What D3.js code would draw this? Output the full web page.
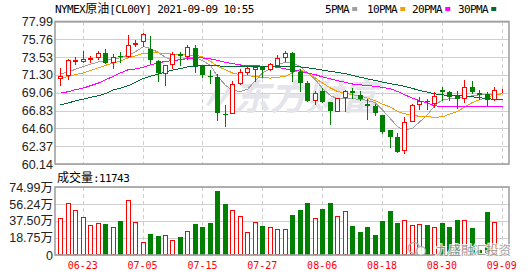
<!DOCTYPE html>
<html>
<head>
<meta charset="utf-8">
<script src="https://cdn.jsdelivr.net/npm/d3@7"></script>
<style>
body { margin: 0; background: #fff; }
svg { display: block; }
</style>
</head>
<body>
<script>
// ---- data ----
const dates = ['06-18','06-21','06-22','06-23','06-24','06-25','06-28','06-29','06-30','07-01',
               '07-02','07-05','07-06','07-07','07-08','07-09','07-12','07-13','07-14','07-15',
               '07-16','07-19','07-20','07-21','07-22','07-23','07-26','07-27','07-28','07-29',
               '07-30','08-02','08-03','08-04','08-05','08-06','08-09','08-10','08-11','08-12',
               '08-13','08-16','08-17','08-18','08-19','08-20','08-23','08-24','08-25','08-26',
               '08-27','08-30','08-31','09-01','09-02','09-03','09-06','09-07','09-08','09-09'];

const openP  = [70.86,71.33,73.10,73.00,73.35,73.55,74.05,72.87,73.62,73.63,
                75.20,75.56,74.60,73.09,71.54,72.67,73.88,73.72,74.68,72.46,
                71.15,71.04,66.45,66.51,70.28,71.70,72.08,72.25,72.08,72.58,
                73.50,74.01,71.66,70.28,68.10,69.23,67.85,66.84,68.47,69.32,
                68.81,67.64,67.43,66.30,64.41,63.57,61.90,65.54,67.64,68.00,
                67.77,69.36,69.19,68.60,68.44,69.78,69.03,68.94,68.31,69.38];
const highP  = [72.17,73.30,73.55,74.30,73.72,74.34,74.60,73.97,74.18,76.36,
                75.69,76.57,76.23,73.20,72.55,74.18,74.18,75.01,75.01,72.50,
                71.96,71.45,67.56,70.57,72.08,72.37,72.30,72.30,72.84,73.84,
                74.26,74.13,72.08,70.57,69.32,69.66,67.90,68.45,69.35,69.66,
                69.23,68.31,67.68,66.30,64.41,63.99,66.00,67.64,68.52,68.31,
                69.10,69.73,69.32,69.23,70.66,70.57,69.36,69.15,69.78,69.57];
const lowP   = [69.98,70.82,72.67,72.90,72.92,73.34,72.80,72.12,72.92,73.50,
                74.88,74.88,72.80,70.49,70.07,72.12,72.50,73.34,71.66,71.04,
                70.28,65.60,64.95,66.50,70.16,71.45,70.57,70.99,71.96,72.46,
                73.00,70.57,69.23,68.06,67.64,67.90,65.10,66.80,66.72,68.40,
                68.18,65.76,66.30,64.07,62.31,61.69,61.56,65.54,67.01,67.00,
                67.34,68.18,68.18,67.14,67.90,69.03,68.31,67.56,68.18,69.10];
const closeP = [71.20,73.21,73.17,73.30,73.40,74.05,72.80,73.50,73.55,75.06,
                75.30,76.44,73.21,71.54,72.50,73.88,73.63,74.80,72.46,71.33,
                71.10,66.51,66.40,70.16,71.66,72.17,72.25,71.96,72.67,73.46,
                74.01,71.66,70.28,68.06,69.03,67.90,66.84,68.40,69.32,69.03,
                68.31,67.43,66.59,64.20,63.57,61.69,65.38,67.47,67.97,67.95,
                68.60,69.10,68.47,68.27,69.78,69.15,68.78,68.18,69.40,69.42];

// 成交量, 万
const volume = [40.5,57.0,49.3,41.6,32.7,35.0,34.2,30.5,37.2,60.3,
                36.0,14.3,22.8,21.0,21.7,16.5,19.8,26.1,34.2,30.9,
                35.3,70.6,56.2,49.3,42.7,25.0,36.0,32.0,30.5,28.7,
                28.7,44.1,49.6,57.3,40.4,50.7,57.3,42.6,48.2,32.0,
                25.4,30.9,22.1,37.5,48.5,35.3,38.2,32.7,33.8,33.1,
                30.5,35.0,30.9,38.6,38.2,29.8,6.0,47.4,36.4,1.1743];
const lastVolume = 11743;

const ma5  = [71.41,71.70,72.00,72.37,72.65,72.92,73.10,73.30,73.45,73.80,
              74.20,74.85,74.60,74.10,73.50,73.13,73.20,73.45,73.50,73.10,
              72.50,71.12,70.00,69.36,69.23,69.50,70.60,71.54,72.10,72.58,
              72.88,72.80,72.30,71.54,70.70,69.60,68.70,68.31,68.31,68.31,
              68.25,68.10,67.80,66.90,65.80,64.80,64.41,64.60,65.40,66.30,
              67.43,68.18,68.31,68.40,68.55,68.69,68.81,68.81,68.85,68.94];
const ma10 = [70.91,71.10,71.35,71.54,71.85,72.17,72.50,72.80,73.05,73.45,
              73.70,74.00,74.05,74.05,74.00,73.90,73.84,73.78,73.72,73.60,
              73.00,72.37,71.96,71.54,71.33,71.20,71.12,70.95,70.90,71.00,
              71.12,71.60,71.96,71.54,70.91,70.28,69.66,69.23,69.03,68.81,
              68.65,68.40,68.06,67.64,67.26,66.72,66.43,66.30,66.09,66.05,
              66.00,66.05,66.38,66.72,67.26,67.85,68.18,68.52,68.81,68.94];
const ma20 = [69.03,69.20,69.45,69.66,69.95,70.28,70.70,71.12,71.55,71.96,
              72.04,72.25,72.58,72.80,73.00,73.09,73.21,73.34,73.42,73.42,
              73.30,73.13,72.88,72.71,72.54,72.50,72.45,72.40,72.37,72.25,
              72.04,71.96,71.75,71.54,71.33,71.04,70.79,70.57,70.36,70.16,
              70.05,69.95,69.87,69.74,69.57,69.23,68.81,68.40,68.06,67.77,
              67.43,67.34,67.34,67.34,67.34,67.34,67.34,67.34,67.34,67.34];
const ma30 = [67.56,67.80,68.05,68.27,68.50,68.69,68.95,69.44,69.65,69.95,
              70.40,70.85,71.15,71.40,71.65,71.90,72.10,72.30,72.40,72.45,
              72.45,72.42,72.40,72.37,72.37,72.37,72.37,72.37,72.37,72.37,
              72.37,72.37,72.30,72.20,72.04,71.90,71.75,71.62,71.45,71.25,
              71.00,70.80,70.60,70.40,70.20,70.05,69.87,69.60,69.36,69.15,
              68.94,68.80,68.70,68.69,68.65,68.56,68.45,68.31,68.25,68.18];

const priceTicks  = [77.99,75.76,73.53,71.30,69.06,66.83,64.60,62.37,60.14];
const priceLabels = ['77.99','75.76','73.53','71.30','69.06','66.83','64.60','62.37','60.14'];
const volTicks  = [74.99,56.24,37.50,18.75,0];
const volLabels = ['74.99万','56.24万','37.50万','18.75万','0'];
const xLabels = ['06-23','07-05','07-15','07-27','08-06','08-18','08-30','09-09'];

const maNames  = ['5PMA','10PMA','20PMA','30PMA'];
const maSeries = [ma5, ma10, ma20, ma30];

function renderChart() {
    // ==== layout ====
    const width = 530, height = 276;
    const plotL = 55, plotR = 509;
    const pTop = 21.5, pBot = 164;
    const vTop = 187, vBot = 255;

    const colors = { up: '#ff0000', down: '#008000', grid: '#cfcfcf', frame: '#a0a0a0' };
    const maColors = ['#a0a0a0', '#f0a000', '#ff00ff', '#006a35'];

    const svg = d3.select('body').append('svg')
        .attr('width', width)
        .attr('height', height)
        .style('font-family', '"Liberation Sans", Arial, sans-serif');

    // ==== scales ====
    const x = d3.scaleBand().domain(dates).range([56.5, 505.5]);
    const cx = d => Math.round(x(d) + x.bandwidth() / 2);

    const y = d3.scaleLinear().domain([60.14, 77.99]).range([pBot, pTop]);
    const yv = d3.scaleLinear().domain([0, 74.99]).range([vBot, vTop]);

    // ==== grid ====
    const grid = svg.append('g').attr('shape-rendering', 'crispEdges');
    grid.selectAll('line.hp')
        .data(priceTicks)
        .enter().append('line')
        .attr('x1', plotL).attr('x2', plotR)
        .attr('y1', d => Math.round(y(d)) + 0.5)
        .attr('y2', d => Math.round(y(d)) + 0.5)
        .attr('stroke', colors.grid);
    grid.selectAll('line.hv')
        .data(volTicks)
        .enter().append('line')
        .attr('x1', plotL).attr('x2', plotR)
        .attr('y1', d => Math.round(yv(d)) + 0.5)
        .attr('y2', d => Math.round(yv(d)) + 0.5)
        .attr('stroke', colors.grid);
    [[pTop, pBot], [vTop, vBot]].forEach(([t, b]) => {
        grid.selectAll(null)
            .data(xLabels)
            .enter().append('line')
            .attr('x1', d => cx(d) + 0.5).attr('x2', d => cx(d) + 0.5)
            .attr('y1', t).attr('y2', b)
            .attr('stroke', colors.grid)
            .attr('stroke-dasharray', '4,3');
    });

    // ==== watermark in price panel ====
    svg.append('text')
        .attr('x', 198).attr('y', 110)
        .attr('font-family', '"Noto Sans CJK SC", sans-serif')
        .attr('font-size', 36)
        .attr('font-weight', 'bold')
        .attr('font-style', 'italic')
        .attr('fill', '#e4e4ea')
        .text('〃东方财富');

    // ==== moving averages ====
    maSeries.forEach((s, k) => {
        const line = d3.line()
            .x((v, i) => cx(dates[i]) + 0.5)
            .y(v => y(v));
        svg.append('path')
            .datum(s)
            .attr('d', line)
            .attr('fill', 'none')
            .attr('stroke', maColors[k])
            .attr('stroke-width', 1)
            .attr('shape-rendering', 'crispEdges');
    });

    // ==== candles ====
    const candles = dates.map((d, i) => ({
        d, o: openP[i], h: highP[i], l: lowP[i], c: closeP[i], v: volume[i]
    }));
    const isUp = k => k.c >= k.o;

    const cg = svg.append('g').attr('shape-rendering', 'crispEdges');
    cg.selectAll('line.wick')
        .data(candles)
        .enter().append('line')
        .attr('x1', k => cx(k.d) + 0.5).attr('x2', k => cx(k.d) + 0.5)
        .attr('y1', k => Math.round(y(k.h)))
        .attr('y2', k => Math.round(y(k.l)) + 1)
        .attr('stroke', k => isUp(k) ? colors.up : colors.down);
    cg.selectAll('rect.body')
        .data(candles)
        .enter().append('rect')
        .attr('x', k => isUp(k) ? cx(k.d) - 2 + 0.5 : cx(k.d) - 2)
        .attr('width', k => isUp(k) ? 4 : 5)
        .attr('y', k => {
            const t = Math.round(y(Math.max(k.o, k.c)));
            return isUp(k) ? t + 0.5 : t;
        })
        .attr('height', k => {
            const t = Math.round(y(Math.max(k.o, k.c)));
            const b = Math.round(y(Math.min(k.o, k.c)));
            return isUp(k) ? Math.max(b - t, 0) : Math.max(b - t, 1);
        })
        .attr('fill', k => isUp(k) ? '#fff' : colors.down)
        .attr('stroke', k => isUp(k) ? colors.up : 'none');

    // ==== volume ====
    const vg = svg.append('g').attr('shape-rendering', 'crispEdges');
    vg.selectAll('rect.vol')
        .data(candles)
        .enter().append('rect')
        .attr('x', k => isUp(k) ? cx(k.d) - 2 + 0.5 : cx(k.d) - 2)
        .attr('width', k => isUp(k) ? 4 : 5)
        .attr('y', k => Math.round(yv(k.v)) + (isUp(k) ? 0.5 : 0))
        .attr('height', k => Math.max(vBot - Math.round(yv(k.v)) - (isUp(k) ? 1 : 0), 0))
        .attr('fill', k => isUp(k) ? '#fff' : colors.down)
        .attr('stroke', k => isUp(k) ? colors.up : 'none');

    // ==== frames ====
    [[pTop, pBot], [vTop, vBot]].forEach(([t, b]) => {
        svg.append('rect')
            .attr('x', plotL).attr('y', t)
            .attr('width', plotR - plotL).attr('height', b - t)
            .attr('fill', 'none')
            .attr('stroke', colors.frame)
            .attr('stroke-width', 1.6);
    });

    // ==== axes ====
    const yAxis = d3.axisLeft(y).tickValues(priceTicks)
        .tickFormat((d, i) => priceLabels[i]).tickSize(0).tickPadding(2);
    const gy = svg.append('g').attr('transform', `translate(${plotL},0)`).call(yAxis);
    const yvAxis = d3.axisLeft(yv).tickValues(volTicks)
        .tickFormat((d, i) => volLabels[i]).tickSize(0).tickPadding(2);
    const gyv = svg.append('g').attr('transform', `translate(${plotL},0)`).call(yvAxis);
    [gy, gyv].forEach(g => {
        g.select('.domain').remove();
        g.selectAll('text')
            .attr('font-family', '"Liberation Sans", "Noto Sans CJK SC", sans-serif')
            .attr('font-size', 12.5)
            .attr('fill', '#222');
    });

    const xAxis = d3.axisBottom(x).tickValues(xLabels).tickSize(0).tickPadding(0);
    const gx = svg.append('g').attr('transform', `translate(0,${vBot + 7})`).call(xAxis);
    gx.select('.domain').remove();
    gx.selectAll('text')
        .attr('font-family', '"DejaVu Sans Mono", monospace')
        .attr('font-size', 10)
        .attr('fill', '#ff0000');

    // ==== title & legend ====
    const mono = '"DejaVu Sans Mono", monospace';
    const cjk = '"Noto Sans CJK SC", sans-serif';
    const title = svg.append('text')
        .attr('x', plotL).attr('y', 12.5)
        .attr('font-family', mono).attr('font-size', 11)
        .attr('letter-spacing', -0.6)
        .attr('fill', '#000');
    title.append('tspan').text('NYMEX');
    title.append('tspan').attr('font-family', cjk).attr('font-size', 12)
        .attr('letter-spacing', 0).text('原油');
    title.append('tspan').text('[CL00Y] 2021-09-09 10:55');

    const legendX = [325, 367, 412, 458];
    maNames.forEach((n, k) => {
        svg.append('text')
            .attr('x', legendX[k]).attr('y', 12.5)
            .attr('font-family', mono).attr('font-size', 11)
            .attr('letter-spacing', -0.6)
            .attr('fill', '#000')
            .text(n);
        svg.append('rect')
            .attr('x', legendX[k] + n.length * 6.05 + 3).attr('y', 7)
            .attr('width', 5).attr('height', 4)
            .attr('fill', maColors[k]);
    });

    const volTitle = svg.append('text')
        .attr('x', 57).attr('y', 181.5)
        .attr('font-family', mono).attr('font-size', 11)
        .attr('letter-spacing', -0.6)
        .attr('fill', '#000');
    volTitle.append('tspan').attr('font-family', cjk).attr('font-size', 12)
        .attr('letter-spacing', 0).text('成交量');
    volTitle.append('tspan').text(':' + lastVolume);

    // ==== corner watermark ====
    const wm = svg.append('g').attr('opacity', 0.85);
    wm.append('circle').attr('cx', 414).attr('cy', 248).attr('r', 5.5)
        .attr('fill', 'none').attr('stroke', '#aaa').attr('stroke-width', 1.5);
    wm.append('circle').attr('cx', 421).attr('cy', 251).attr('r', 4.5)
        .attr('fill', '#fff').attr('stroke', '#aaa').attr('stroke-width', 1.5);
    wm.append('text')
        .attr('x', 436).attr('y', 255)
        .attr('font-family', cjk).attr('font-size', 12.5)
        .attr('fill', '#9a9a9a')
        .attr('stroke', '#fff').attr('stroke-width', 2).attr('paint-order', 'stroke')
        .text('九盛融汇投资');
}

window.addEventListener('load', function() {
    requestAnimationFrame(renderChart);
});
</script>
</body>
</html>
